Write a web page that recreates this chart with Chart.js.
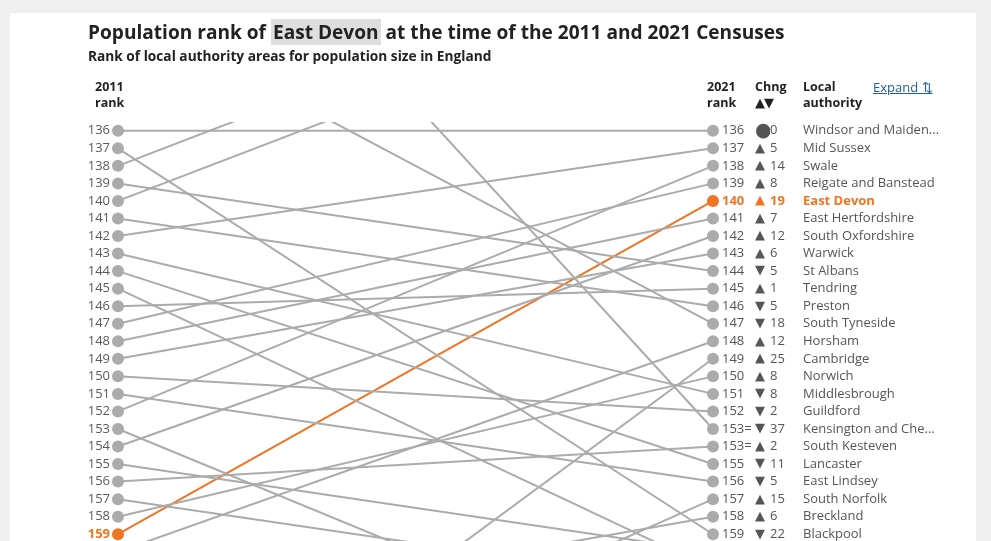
<!DOCTYPE html>
<html>
<head>
<meta charset="utf-8">
<script src="https://cdn.jsdelivr.net/npm/chart.js@4"></script>
<style>
  body { margin: 0; background: #f0f0f0; font-family: "Open Sans", sans-serif; overflow: hidden; }
  #card { position: absolute; left: 10px; top: 13px; width: 966px; height: 528px; background: #fff; }
  #wrap { position: absolute; left: 0; top: 0; width: 991px; height: 549px; }
  .t { position: absolute; white-space: nowrap; color: #222; }
  #title { left: 88px; top: 19px; font-size: 19.1px; font-weight: 700; }
  #title span { background: #dedede; padding: 0 2px; }
  #sub { left: 88px; top: 46px; font-size: 13.7px; font-weight: 700; }
  .hd { font-size: 12.5px; font-weight: 700; line-height: 16px; top: 79px; }
  .arrows { font-family: "DejaVu Sans", sans-serif; font-size: 13px; letter-spacing: -1px; }
  #expand { left: 873px; top: 78px; font-size: 13px; color: #206095; text-decoration: underline; }
</style>
</head>
<body>
<div id="card"></div>
<div id="wrap"><canvas id="slope"></canvas></div>
<div class="t" id="title">Population rank of <span>East Devon</span> at the time of the 2011 and 2021 Censuses</div>
<div class="t" id="sub">Rank of local authority areas for population size in England</div>
<div class="t hd" style="left:95px">2011<br>rank</div>
<div class="t hd" style="left:707px">2021<br>rank</div>
<div class="t hd" style="left:755px">Chng<br><span class="arrows">▲▼</span></div>
<div class="t hd" style="left:803px">Local<br>authority</div>
<div class="t" id="expand">Expand ⇅</div>
<script>
// rows in 2021 order (positions 136..159 on the right)
var rows = [136,137,138,139,140,141,142,143,144,145,146,147,148,149,150,151,152,153,154,155,156,157,158,159];
var names = ["Windsor and Maiden...", "Mid Sussex", "Swale", "Reigate and Banstead", "East Devon",
  "East Hertfordshire", "South Oxfordshire", "Warwick", "St Albans", "Tendring", "Preston",
  "South Tyneside", "Horsham", "Cambridge", "Norwich", "Middlesbrough", "Guildford",
  "Kensington and Che...", "South Kesteven", "Lancaster", "East Lindsey", "South Norfolk",
  "Breckland", "Blackpool"];
var rank2021Labels = ["136","137","138","139","140","141","142","143","144","145","146","147",
  "148","149","150","151","152","153=","153=","155","156","157","158","159"];
var changeDir = ["same","up","up","up","up","up","up","up","down","up","down","down",
  "up","up","up","down","down","down","up","down","down","up","up","down"];
var changeSize = [0,5,14,8,19,7,12,6,5,1,5,18,12,25,8,8,2,37,2,11,5,15,6,22];
var rank2011 = [136,142,152,147,159,148,154,149,139,146,141,129,160,174,158,143,150,116,156,144,151,172,164,137];
var rank2021 = rows;

// areas that were on this part of the list in 2011 but moved out of it by 2021
var outRank2011 = [138,140,145,153,155,157];
var outRank2021 = [125,127,161,167,160,162];

var symbols = { up: "▲", down: "▼", same: "●" };
var highlight = "East Devon";
var grey = "#ababab";
var orange = "#f07422";
var hiIndex = names.indexOf(highlight);
var hiLeft = rows.indexOf(rank2011[hiIndex]);

var datasets = [];
outRank2011.forEach(function (r, i) {
  datasets.push({ data: [{x: 0, y: r}, {x: 1, y: outRank2021[i]}], color: grey });
});
names.forEach(function (n, i) {
  if (n == highlight) return;
  datasets.push({ data: [{x: 0, y: rank2011[i]}, {x: 1, y: rank2021[i]}], color: grey });
});
datasets.push({ data: [{x: 0, y: rank2011[hiIndex]}, {x: 1, y: rank2021[hiIndex]}], color: orange });
datasets = datasets.map(function (d) {
  return {
    data: d.data,
    borderColor: d.color,
    backgroundColor: d.color,
    pointBackgroundColor: d.color,
    pointBorderWidth: 0,
    pointRadius: 6,
    borderWidth: 2,
    clip: {left: 8, right: 8, top: 0, bottom: 0},
    yAxisID: 'y'
  };
});

function rowAxis(position, weight, width, pad, labelFn, colorFn, hi, fontFn) {
  return {
    type: 'linear',
    position: position,
    weight: weight,
    min: 135.5,
    max: 159.5,
    reverse: true,
    grid: { display: false, drawTicks: false },
    border: { display: false },
    afterBuildTicks: function (s) { s.ticks = rows.map(function (v) { return {value: v}; }); },
    afterFit: function (s) { s.width = width; s.paddingTop = 0; s.paddingBottom = 0; },
    ticks: {
      padding: pad,
      autoSkip: false,
      callback: labelFn,
      color: colorFn,
      font: fontFn || function (ctx) {
        return { family: "'Open Sans', sans-serif", size: 13, weight: ctx.index === hi ? 'bold' : 'normal' };
      }
    }
  };
}

function leftColor(ctx) { return ctx.index === hiLeft ? orange : '#5a5a5a'; }
function rightColor(ctx) { return ctx.index === hiIndex ? orange : '#555'; }
function symbolFont(ctx) {
  return { family: "'DejaVu Sans', sans-serif", size: changeDir[ctx.index] == 'same' ? 19 : 13 };
}

new Chart(document.getElementById("slope"), {
  type: 'line',
  data: { datasets: datasets },
  options: {
    responsive: true,
    maintainAspectRatio: false,
    animation: false,
    events: [],
    layout: { padding: { left: 78, right: 15, top: 122, bottom: 0 } },
    plugins: { legend: { display: false }, tooltip: { enabled: false } },
    scales: {
      x: { type: 'linear', min: 0, max: 1, display: false },
      y: rowAxis('left', 1, 40, 8, function (v) { return String(v); }, leftColor, hiLeft),
      yRank: rowAxis('right', 1, 40, 9, function (v, i) { return rank2021Labels[i]; }, rightColor, hiIndex),
      ySym: rowAxis('right', 2, 17, 2, function (v, i) { return symbols[changeDir[i]]; }, rightColor, -1, symbolFont),
      yChng: rowAxis('right', 3, 29, 0, function (v, i) { return String(changeSize[i]); }, rightColor, hiIndex),
      yName: rowAxis('right', 4, 177, 4, function (v, i) { return names[i]; }, rightColor, hiIndex)
    }
  }
});
</script>
</body>
</html>
